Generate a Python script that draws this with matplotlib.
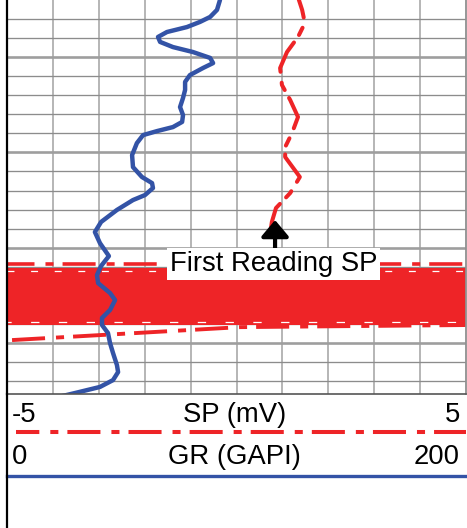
import matplotlib
matplotlib.use("Agg")
import matplotlib.pyplot as plt

plt.rcParams["font.family"] = ["Liberation Sans", "DejaVu Sans"]
plt.rcParams["lines.scale_dashes"] = False

# ---- log data -------------------------------------------------------------
gr_depth = [1020.0, 1025.2, 1028.9, 1031.5, 1034.2, 1036.8, 1039.4, 1042.0,
            1044.7, 1047.3, 1050.4, 1053.1, 1055.7, 1059.4, 1063.0, 1067.2,
            1071.4, 1076.2, 1080.4, 1084.0, 1086.7, 1088.8, 1090.9, 1095.1,
            1101.4, 1107.7, 1112.9, 1116.1, 1118.7, 1122.4, 1125.0, 1130.2,
            1136.5, 1141.8, 1147.6, 1154.4, 1159.6, 1164.4, 1168.6, 1173.8,
            1177.5, 1182.7, 1186.9, 1190.6, 1194.8, 1200.1, 1205.3, 1211.6,
            1215.3, 1219.5, 1223.1, 1226.3, 1227.9]
gr_api = [92.8, 91.5, 88.5, 84.1, 78.4, 69.7, 65.8, 66.7,
          72.3, 81.0, 88.5, 89.8, 85.4, 79.7, 77.6, 77.6,
          76.7, 75.4, 76.7, 76.3, 72.3, 65.4, 59.3, 56.6,
          54.5, 54.9, 58.8, 63.2, 63.6, 60.1, 54.9, 47.9,
          41.0, 38.3, 40.5, 44.4, 41.0, 39.2, 39.7, 44.9,
          47.1, 44.9, 41.4, 41.4, 44.0, 44.9, 46.2, 47.9,
          48.4, 46.2, 40.5, 29.6, 24.0]

sp_depth = [1017.0, 1020.0, 1025.2, 1032.1, 1039.4, 1047.3, 1055.7, 1064.6,
            1072.5, 1081.4, 1089.8, 1097.2, 1102.4, 1112.9, 1121.3, 1129.2,
            1136.5, 1143.4]
sp_mv = [1.33, 1.36, 1.43, 1.49, 1.34, 1.10, 0.95, 0.99,
         1.17, 1.34, 1.21, 1.06, 1.06, 1.38, 1.17, 0.86,
         0.77, 0.73]

# noisy SP interval (trace swings across the full scale)
sp_noise_top = 1160.8
sp_noise_bottom = 1190.6
sp_noise_upper_edge = 1158.6
sp_tail_depth = [1198.5, 1191.7, 1190.6]
sp_tail_mv = [-4.89, 0.08, 5.0]

first_reading_depth = 1135.5
first_reading_mv = 0.84

# scales
sp_range = (-5, 5)
gr_range = (0, 200)
depth_range = (1226.8, 1020.0)
minor_step, major_step = 10, 50

RED = "#EE2427"
BLUE = "#3353A6"
DASH_PATTERN = (23.8, 7.9, 5.8, 6.5)
FS = 19.8

W, H = 467, 528
fig = plt.figure(figsize=(W / 100, H / 100), dpi=100)
fig.patch.set_facecolor("white")

# ---- log track -------------------------------------------------------------
track_bottom = 394
ax = fig.add_axes([7 / W, 1 - track_bottom / H, (466 - 7) / W, track_bottom / H])
ax.set_xlim(*sp_range)
ax.set_ylim(*depth_range)
ax.set_xticks([])
ax.set_yticks([])

for v in range(sp_range[0] + 1, sp_range[1]):
    ax.axvline(v, color="#a2a2a2", lw=1.1, zorder=1)
d = 1030
while d < depth_range[0]:
    if d % major_step == 0:
        ax.axhline(d, color="#9e9e9e", lw=1.9, zorder=1)
    else:
        ax.axhline(d, color="#8c8c8c", lw=0.95, zorder=1)
    d += minor_step

# noisy SP interval
ax.axhspan(sp_noise_top, sp_noise_bottom, color=RED, lw=0, zorder=2)
ax.plot(sp_range, [sp_noise_upper_edge] * 2, color=RED, lw=2.6,
        ls=(4, DASH_PATTERN), zorder=2)
ax.plot(sp_range, [sp_noise_top + 1.2] * 2, color="white", lw=0.9,
        ls=(0, (5, 12)), zorder=2)
ax.plot(sp_range, [sp_noise_bottom - 1.4] * 2, color="white", lw=0.9,
        ls=(3, (6, 14)), zorder=2)
ax.plot(sp_tail_mv, sp_tail_depth, color=RED, lw=2.8, ls=(0, DASH_PATTERN),
        zorder=2)

# SP curve
ax.plot(sp_mv, sp_depth, color=RED, lw=2.9, ls=(10, DASH_PATTERN),
        dash_capstyle="round", zorder=3)

# GR curve, rescaled onto the shared track width
gr_on_track = [sp_range[0] + (g - gr_range[0]) / (gr_range[1] - gr_range[0]) *
               (sp_range[1] - sp_range[0]) for g in gr_api]
ax.plot(gr_on_track, gr_depth, color=BLUE, lw=3.2, solid_joinstyle="round",
        solid_capstyle="round", zorder=4)

# first reading marker
ax.annotate("", xy=(first_reading_mv, first_reading_depth),
            xytext=(first_reading_mv, first_reading_depth + 15),
            arrowprops=dict(arrowstyle="-|>,head_length=0.5,head_width=0.42",
                            mutation_scale=20, lw=3.0, color="black",
                            shrinkA=0, shrinkB=0), zorder=6)
ax.text(-1.45, 1162.3, "First Reading SP", fontsize=FS, ha="left",
        va="baseline", color="black", zorder=7,
        bbox=dict(boxstyle="square,pad=0.1", fc="white", ec="none"))

ax.spines["top"].set_visible(False)
ax.spines["left"].set_color("black")
ax.spines["left"].set_linewidth(1.6)
ax.spines["right"].set_color("#8f8f8f")
ax.spines["right"].set_linewidth(1.3)
ax.spines["bottom"].set_color("#555555")
ax.spines["bottom"].set_linewidth(1.2)
for s in ax.spines.values():
    s.set_zorder(8)

# ---- header ----------------------------------------------------------------
hx = fig.add_axes([7 / W, 0, (466 - 7) / W, (H - track_bottom) / H])
hx.set_xlim(0, 1)
hx.set_ylim(0, 1)
hx.set_xticks([])
hx.set_yticks([])
for side in ("top", "right", "bottom"):
    hx.spines[side].set_visible(False)
hx.spines["left"].set_color("black")
hx.spines["left"].set_linewidth(1.6)
hx.patch.set_alpha(0)

sp_base, gr_base = 0.791, 0.478
hx.text(0.011, sp_base, f"{sp_range[0]}", fontsize=FS, ha="left", va="baseline")
hx.text(0.495, sp_base, "SP (mV)", fontsize=FS, ha="center", va="baseline")
hx.text(0.987, sp_base, f"{sp_range[1]}", fontsize=FS, ha="right", va="baseline")
hx.plot([0.02, 1.0], [0.716, 0.716], color=RED, lw=2.9,
        ls=(7, DASH_PATTERN), clip_on=False)
hx.text(0.011, gr_base, f"{gr_range[0]}", fontsize=FS, ha="left", va="baseline")
hx.text(0.495, gr_base, "GR (GAPI)", fontsize=FS, ha="center", va="baseline")
hx.text(0.987, gr_base, f"{gr_range[1]}", fontsize=FS, ha="right", va="baseline")
hx.plot([0.0, 1.0], [0.388, 0.388], color=BLUE, lw=2.4, clip_on=False)

fig.savefig("out.png", dpi=100)
